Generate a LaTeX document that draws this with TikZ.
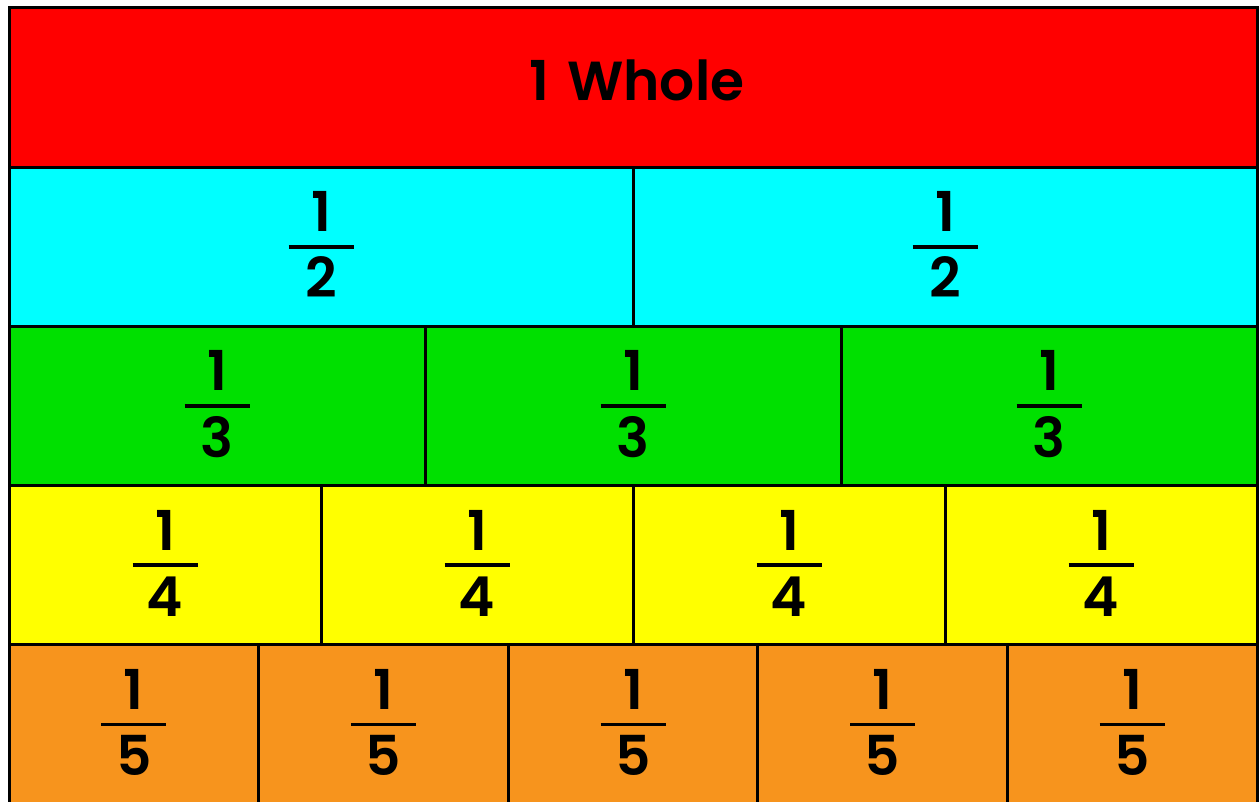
\documentclass[tikz,border=0pt]{standalone}
\usepackage{fontspec}
\setmainfont{Poppins}[BoldFont={Poppins SemiBold}]
\definecolor{redc}{RGB}{255,0,0}
\definecolor{cyanc}{RGB}{0,255,255}
\definecolor{greenc}{RGB}{0,224,0}
\definecolor{yellowc}{RGB}{255,255,0}
\definecolor{orangec}{RGB}{247,148,29}
\begin{document}
\begin{tikzpicture}[x=1pt,y=-1pt,
  cell/.style={draw=black, line width=3pt, inner sep=0pt, outer sep=0pt, anchor=north west, minimum height=159.2pt},
  num/.style={font=\fontsize{55}{55}\selectfont\bfseries, inner sep=0pt, anchor=base},
  fbar/.style={line width=3.5pt}]
\useasboundingbox (0,0) rectangle (1259,802);
\fill[white] (0,0) rectangle (1259,802);
\node[cell, fill=redc, minimum width=1248pt] (whole) at (9,8) {};
\node[num, anchor=base] (wholetxt) at ([xshift=4pt,yshift=-13pt]whole.center) {1\hspace{0.32em}Whole};
\foreach \n/\col/\r in {2/cyanc/1,3/greenc/2,4/yellowc/3,5/orangec/4}{
  \pgfmathsetmacro\w{1248/\n}
  \foreach \k in {1,...,\n}{
    \node[cell, fill=\col, minimum width=\w pt] (c\n-\k) at ({9+(\k-1)*\w}, {8+\r*159.2}) {};
    \draw[fbar] ([xshift=-32.5pt]c\n-\k.center) -- ([xshift=32.5pt]c\n-\k.center);
    \node[num] (t\n-\k) at ([yshift=15pt]c\n-\k.center) {1};
    \node[num] (b\n-\k) at ([yshift=-51pt]c\n-\k.center) {\n};
  }
}
\end{tikzpicture}
\end{document}
